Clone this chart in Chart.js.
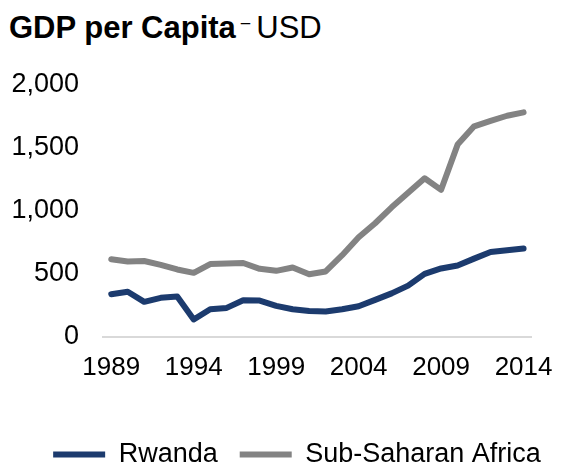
<!DOCTYPE html>
<html>
<head>
<meta charset="utf-8">
<script src="https://cdn.jsdelivr.net/npm/chart.js@4"></script>
<style>
  html, body { margin: 0; padding: 0; background: #fff; overflow: hidden; }
  body { width: 568px; height: 464px; position: relative; font-family: "Liberation Sans", Arial, sans-serif; }
  #title { position: absolute; left: 9px; top: 11px; font-size: 31px; line-height: 34px; color: #000; white-space: nowrap; }
  #title b { font-weight: bold; }
  #title .dash { font-size: 17px; position: relative; top: -10px; margin: 0 6px 0 5px; }
  #wrap { position: absolute; left: 0; top: 0; width: 568px; height: 478px; }
</style>
</head>
<body>
<div id="title"><b>GDP per Capita</b><span class="dash">–</span>USD</div>
<div id="wrap"><canvas id="gdpChart" width="568" height="478"></canvas></div>
<script>
// values (USD)
const years = ['1989','1990','1991','1992','1993','1994','1995','1996','1997','1998','1999','2000','2001',
               '2002','2003','2004','2005','2006','2007','2008','2009','2010','2011','2012','2013','2014'];
const rwanda = [340, 359, 279, 311, 322, 139, 220, 231, 292, 289, 247, 220, 207,
                203, 220, 244, 295, 346, 408, 501, 544, 568, 622, 675, 689, 702];
const subSaharan = [617, 600, 603, 573, 536, 509, 579, 584, 587, 541, 525, 552, 498,
                    520, 649, 791, 903, 1029, 1144, 1260, 1168, 1527, 1672, 1715, 1756, 1783];
const yTicks = [0, 500, 1000, 1500, 2000];

const navy = '#1c3b6e';
const grey = '#838383';

Chart.defaults.font.family = '"Liberation Sans", Arial, sans-serif';
Chart.defaults.color = '#000';

// legend sits a bit right of the canvas centre in the original
const shiftLegend = {
    id: 'shiftLegend',
    afterLayout(chart) {
        chart.legend.left += 26;
        chart.legend.right += 26;
    }
};

const ctx = document.getElementById('gdpChart').getContext('2d');

new Chart(ctx, {
    type: 'line',
    data: {
        labels: years,
        datasets: [{
            label: 'Rwanda',
            data: rwanda,
            borderColor: navy,
            backgroundColor: navy,
            borderWidth: 6,
            borderCapStyle: 'round',
            borderJoinStyle: 'round',
            pointRadius: 0,
            tension: 0
        }, {
            label: 'Sub-Saharan Africa',
            data: subSaharan,
            borderColor: grey,
            backgroundColor: grey,
            borderWidth: 6,
            borderCapStyle: 'round',
            borderJoinStyle: 'round',
            pointRadius: 0,
            tension: 0
        }]
    },
    options: {
        responsive: false,
        animation: false,
        layout: {
            padding: { top: 85, left: 0, right: 26, bottom: 0 }
        },
        scales: {
            x: {
                offset: true,
                grid: { display: false, drawTicks: false },
                border: { display: true, color: '#d9d9d9', width: 2 },
                ticks: {
                    autoSkip: false,
                    maxRotation: 0,
                    padding: 15,
                    font: { size: 26 },
                    callback: function(value, index) {
                        return index % 5 === 0 ? years[index] : '';
                    }
                },
                afterFit: function(axis) { axis.height = 82; }
            },
            y: {
                min: 0,
                max: 2000,
                grid: { display: false, drawTicks: false },
                border: { display: false },
                afterBuildTicks: function(axis) {
                    axis.ticks = yTicks.map(v => ({ value: v }));
                },
                ticks: {
                    padding: 24,
                    font: { size: 27 },
                    callback: function(value) {
                        return value.toLocaleString('en-US');
                    }
                },
                afterFit: function(axis) { axis.width = 103; }
            }
        },
        plugins: {
            legend: {
                display: true,
                position: 'bottom',
                labels: {
                    usePointStyle: true,
                    pointStyle: 'line',
                    pointStyleWidth: 52,
                    boxHeight: 6,
                    padding: 22,
                    font: { size: 27 },
                    color: '#000'
                }
            },
            tooltip: { enabled: false }
        }
    },
    plugins: [shiftLegend]
});
</script>
</body>
</html>
